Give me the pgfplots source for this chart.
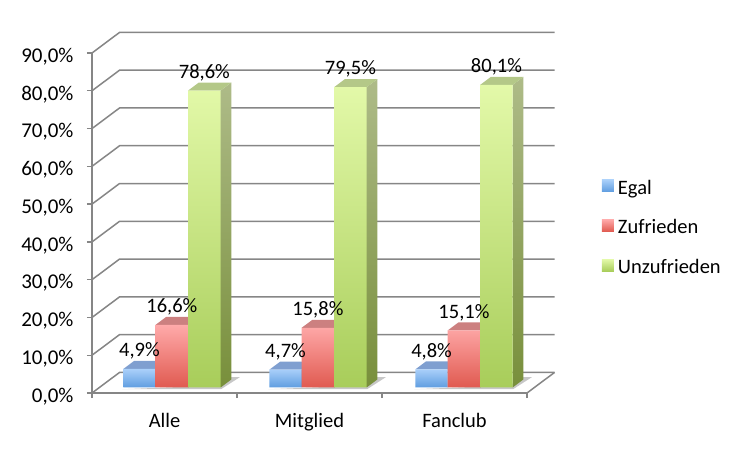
\documentclass[border=0pt]{standalone}
\usepackage{pgfplots}
\usepackage{fontspec}
\setmainfont{Carlito}
\pgfplotsset{compat=1.18}
\definecolor{gridc}{HTML}{868686}
\definecolor{bluetopface}{HTML}{7F9FD0}
\definecolor{blueside}{HTML}{6F8FC0}
\definecolor{bluehi}{HTML}{AAD0FA}
\definecolor{bluelo}{HTML}{5F9DE0}
\definecolor{redtopface}{HTML}{CC8080}
\definecolor{redside}{HTML}{B05A55}
\definecolor{redhi}{HTML}{FFAAAA}
\definecolor{redlo}{HTML}{E05A50}
\definecolor{greentopface}{HTML}{B4C888}
\definecolor{greensidehi}{HTML}{AEBB88}
\definecolor{greensidelo}{HTML}{788F3B}
\definecolor{greenhi}{HTML}{E3F9A9}
\definecolor{greenlo}{HTML}{A8CD5A}

% side and top face of one bar: left edge, right edge, value, top face, side top, side bottom
\newcommand\barfaces[6]{%
  \pgfmathsetmacro\xb{#2+0.0738}%
  \pgfmathsetmacro\xc{#1+0.0738}%
  \pgfmathsetmacro\yb{#3+2.12}%
  \addplot[forget plot,draw=none,top color=#5,bottom color=#6] coordinates {(#2,0) (\xb,2.12) (\xb,\yb) (#2,#3)} -- cycle;
  \addplot[forget plot,draw=none,fill=#4] coordinates {(#1,#3) (#2,#3) (\xb,\yb) (\xc,\yb)} -- cycle;
}

\begin{document}
\begin{tikzpicture}
\path (0pt,0pt) (751pt,451pt);

% walls, grid and value axis
\begin{axis}[
    at={(92pt,58pt)}, anchor=south west,
    scale only axis, width=435pt, height=340pt,
    xmin=0, xmax=3, ymin=0, ymax=90,
    clip=false,
    axis x line*=bottom, axis y line*=left,
    axis line style={gridc,line width=1.7pt,-},
    xtick={0,1,2,3}, xticklabels={},
    ytick={0,10,...,90},
    tick style={gridc,line width=1.4pt},
    tick align=outside, major tick length=5pt,
    yticklabel={\pgfmathprintnumber{\tick}\%},
    yticklabel style={font=\fontsize{21}{22}\selectfont,xshift=-10pt,yshift=-3.5pt,
      /pgf/number format/.cd,fixed,fixed zerofill,precision=1,use comma,assume math mode=true},
]
\pgfplotsinvokeforeach{0,10,...,90}{
  \draw[gridc,line width=1.5pt] (axis cs:0,#1) -- (axis cs:0.19,#1+5.45) -- (axis cs:3.19,#1+5.45);
}
\draw[gridc,line width=1.5pt] (axis cs:3,0) -- (axis cs:3.19,5.45);
% floor shadows
\fill[black!22] (axis cs:0.21,1.0) -- (axis cs:0.89,1.0) -- (axis cs:1.02,4.2) -- (axis cs:0.94,4.2) -- (axis cs:0.87,2) -- cycle;
\fill[black!22] (axis cs:1.217,1.0) -- (axis cs:1.897,1.0) -- (axis cs:2.027,4.2) -- (axis cs:1.947,4.2) -- (axis cs:1.877,2) -- cycle;
\fill[black!22] (axis cs:2.224,1.0) -- (axis cs:2.904,1.0) -- (axis cs:3.034,4.2) -- (axis cs:2.954,4.2) -- (axis cs:2.884,2) -- cycle;
\end{axis}

% bars, in the same box with the zero line lifted onto the floor
\begin{axis}[
    at={(92pt,58pt)}, anchor=south west,
    scale only axis, width=435pt, height=340pt,
    xmin=0, xmax=3, ymin=-1.46, ymax=88.54,
    clip=false,
    set layers, mark layer=axis foreground,
    axis x line*=bottom, axis y line*=left,
    axis line style={draw=none},
    ytick=\empty,
    xtick={0.5,1.5,2.5}, xticklabels={Alle,Mitglied,Fanclub},
    tick style={draw=none},
    xticklabel style={font=\fontsize{20.5}{22}\selectfont,yshift=-17pt},
    legend style={at={(1.165,0.487)},anchor=west,draw=none,fill=none,
      font=\fontsize{20.5}{22}\selectfont,row sep=22pt,
      nodes={inner sep=1pt,inner xsep=4pt}},
    legend cell align=left,
    legend image code/.code={\fill[/tikz/.cd,#1,draw=none] (0pt,-4pt) rectangle (12pt,8pt);},
    bars/.style={ybar,bar width=0.2234,draw=none,
      nodes near coords={\pgfmathprintnumber{\pgfplotspointmeta}\%},
      every node near coord/.append style={font=\fontsize{20.5}{22}\selectfont,anchor=south,yshift=6pt,xshift=#1,
        /pgf/number format/.cd,fixed,fixed zerofill,precision=1,use comma,assume math mode=true}},
]
% Egal
\barfaces{0.216}{0.439}{4.9}{bluetopface}{bluetopface}{blueside}
\barfaces{1.223}{1.446}{4.7}{bluetopface}{bluetopface}{blueside}
\barfaces{2.230}{2.453}{4.8}{bluetopface}{bluetopface}{blueside}
\addplot[bars=-25pt,bar shift=-0.1725,top color=bluehi,bottom color=bluelo]
  coordinates {(0.5,4.9) (1.507,4.7) (2.514,4.8)};
\addlegendentry{Egal}
% Zufrieden
\barfaces{0.439}{0.663}{16.6}{redtopface}{redtopface}{redside}
\barfaces{1.446}{1.670}{15.8}{redtopface}{redtopface}{redside}
\barfaces{2.453}{2.677}{15.1}{redtopface}{redtopface}{redside}
\addplot[bars=7.4pt,bar shift=0.051,top color=redhi,bottom color=redlo]
  coordinates {(0.5,16.6) (1.507,15.8) (2.514,15.1)};
\addlegendentry{Zufrieden}
% Unzufrieden
\barfaces{0.663}{0.887}{78.6}{greentopface}{greensidehi}{greensidelo}
\barfaces{1.670}{1.894}{79.5}{greentopface}{greensidehi}{greensidelo}
\barfaces{2.677}{2.901}{80.1}{greentopface}{greensidehi}{greensidelo}
\addplot[bars=39.9pt,bar shift=0.275,top color=greenhi,bottom color=greenlo]
  coordinates {(0.5,78.6) (1.507,79.5) (2.514,80.1)};
\addlegendentry{Unzufrieden}
\end{axis}
\end{tikzpicture}
\end{document}
